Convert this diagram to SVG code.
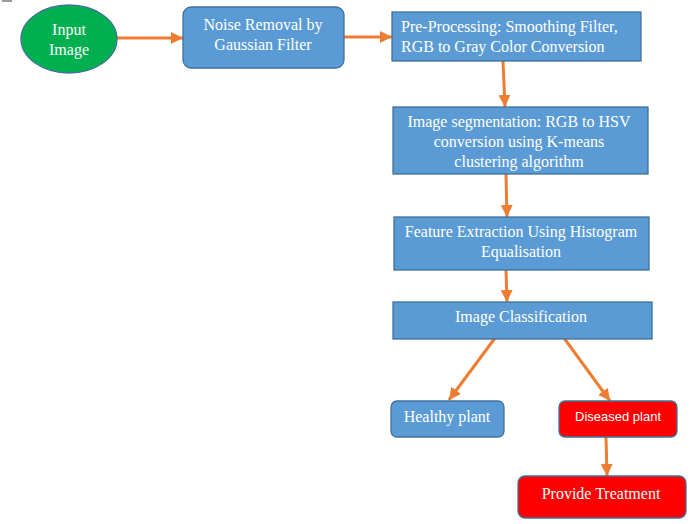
<svg xmlns="http://www.w3.org/2000/svg" width="691" height="524" viewBox="0 0 691 524">
<style>
.blue{fill:#5B9BD5;stroke:#41719C;stroke-width:1.3}
.red{fill:#FF0000;stroke:#41719C;stroke-width:1.3}
.green{fill:#00B050;stroke:#41719C;stroke-width:1.3}
.t{font-family:"Liberation Serif","Times New Roman",serif;font-size:16px;fill:#fff}
.s{font-family:"Liberation Sans",Arial,sans-serif;font-size:13px;fill:#fff}
.c{text-anchor:middle}
.e{stroke:#ED7D31;stroke-width:3;fill:none;marker-end:url(#ah)}
</style>
<defs>
<marker id="ah" markerUnits="userSpaceOnUse" markerWidth="14" markerHeight="14" viewBox="0 0 14 14" refX="12" refY="7" orient="auto">
<path d="M0,1 L12,7 L0,13 Z" fill="#ED7D31"/>
</marker>
</defs>
<rect x="2" y="0" width="10" height="2" fill="#9a9a9a"/>
<g id="connectors">
<line class="e" x1="117" y1="38" x2="183" y2="38"/>
<line class="e" x1="344" y1="37" x2="392" y2="37"/>
<line class="e" x1="503" y1="61" x2="505" y2="107"/>
<line class="e" x1="506" y1="174" x2="507" y2="217"/>
<line class="e" x1="506" y1="270" x2="507" y2="302"/>
<line class="e" x1="495" y1="338" x2="449" y2="400"/>
<line class="e" x1="564" y1="338" x2="610" y2="401"/>
<line class="e" x1="606" y1="437" x2="607" y2="476"/>
</g>
<g id="input">
<ellipse class="green" cx="69" cy="39" rx="48" ry="34"/>
<text class="t c" x="69" y="35">Input</text>
<text class="t c" x="69" y="55">Image</text>
</g>
<g id="noise">
<rect class="blue" x="183" y="7" width="161" height="61" rx="8"/>
<text class="t c" x="263" y="30">Noise Removal by</text>
<text class="t c" x="263" y="50">Gaussian Filter</text>
</g>
<g id="pre">
<rect class="blue" x="392" y="12" width="249" height="49"/>
<text class="t" x="401" y="32">Pre-Processing: Smoothing Filter,</text>
<text class="t" x="401" y="52">RGB to Gray Color Conversion</text>
</g>
<g id="seg">
<rect class="blue" x="393" y="107" width="255" height="67"/>
<text class="t c" x="519" y="127">Image segmentation: RGB to HSV</text>
<text class="t c" x="519" y="147">conversion using K-means</text>
<text class="t c" x="519" y="167">clustering algorithm</text>
</g>
<g id="feature">
<rect class="blue" x="394" y="217" width="255" height="53"/>
<text class="t c" x="521" y="237">Feature Extraction Using Histogram</text>
<text class="t c" x="521" y="257">Equalisation</text>
</g>
<g id="classify">
<rect class="blue" x="393" y="302" width="259" height="37"/>
<text class="t c" x="521" y="322">Image Classification</text>
</g>
<g id="healthy">
<rect class="blue" x="391" y="401" width="113" height="36" rx="6"/>
<text class="t c" x="447" y="422">Healthy plant</text>
</g>
<g id="diseased">
<rect class="red" x="559" y="401" width="118" height="36" rx="6"/>
<text class="s c" x="618" y="421">Diseased plant</text>
</g>
<g id="treatment">
<rect class="red" x="518" y="476" width="168" height="42" rx="7"/>
<text class="t c" x="601" y="499">Provide Treatment</text>
</g>
</svg>
